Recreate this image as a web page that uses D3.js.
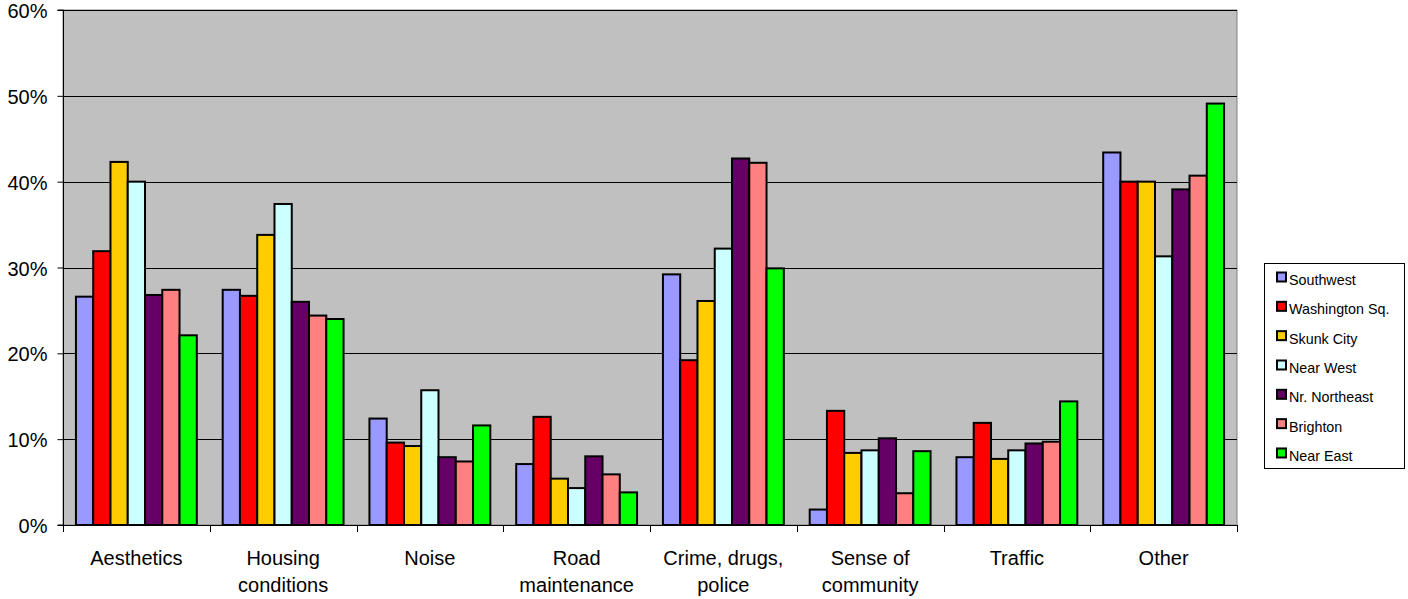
<!DOCTYPE html>
<html>
<head>
<meta charset="utf-8">
<script src="https://cdn.jsdelivr.net/npm/d3@7"></script>
<style>
  html, body { margin: 0; padding: 0; background: #fff; }
  svg { display: block; font-family: "Liberation Sans", Arial, sans-serif; }
</style>
</head>
<body>
<svg id="chart" width="1408" height="599"></svg>
<script>
// Problem categories (line breaks mark the wrapped axis labels)
const categories = [
  "Aesthetics",
  "Housing\nconditions",
  "Noise",
  "Road\nmaintenance",
  "Crime, drugs,\npolice",
  "Sense of\ncommunity",
  "Traffic",
  "Other"
];

// Neighborhoods (series)
const series = ["Southwest", "Washington Sq.", "Skunk City", "Near West", "Nr. Northeast", "Brighton", "Near East"];
const seriesColors = ["#9999FF", "#FF0000", "#FFCC00", "#CCFFFF", "#660066", "#FF8080", "#00FF00"];

// Share of respondents naming each problem, per neighborhood (in category order)
const southwest     = [0.266, 0.274, 0.124, 0.071, 0.292, 0.018, 0.079, 0.434];
const washingtonSq  = [0.319, 0.267, 0.096, 0.126, 0.192, 0.133, 0.119, 0.400];
const skunkCity     = [0.423, 0.338, 0.092, 0.054, 0.261, 0.084, 0.077, 0.400];
const nearWest      = [0.400, 0.374, 0.157, 0.043, 0.322, 0.087, 0.087, 0.313];
const nrNortheast   = [0.268, 0.260, 0.079, 0.080, 0.427, 0.101, 0.095, 0.391];
const brighton      = [0.274, 0.244, 0.074, 0.059, 0.422, 0.037, 0.097, 0.407];
const nearEast      = [0.221, 0.240, 0.116, 0.038, 0.299, 0.086, 0.144, 0.491];

const seriesValues = [southwest, washingtonSq, skunkCity, nearWest, nrNortheast, brighton, nearEast];

const yTicks = [0, 0.1, 0.2, 0.3, 0.4, 0.5, 0.6];

// Plot area
const plot = { left: 63, right: 1237, top: 10, bottom: 525 };

const svg = d3.select("#chart");

const x0 = d3.scaleBand()
  .domain(categories)
  .range([plot.left, plot.right])
  .padding(0);

const x1 = d3.scaleBand()
  .domain(series)
  .range([0, x0.bandwidth()])
  .paddingInner(0)
  .paddingOuter(0.75);

const y = d3.scaleLinear()
  .domain([0, 0.6])
  .range([plot.bottom, plot.top]);

// Plot background
svg.append("rect")
  .attr("x", plot.left)
  .attr("y", plot.top)
  .attr("width", plot.right - plot.left)
  .attr("height", plot.bottom - plot.top)
  .attr("fill", "#C0C0C0")
  .attr("stroke", "#808080")
  .attr("stroke-width", 1);

// Horizontal gridlines
svg.append("g")
  .selectAll("line")
  .data(yTicks.filter(d => d > 0))
  .join("line")
  .attr("x1", plot.left)
  .attr("x2", plot.right)
  .attr("y1", d => Math.round(y(d)) + 0.5)
  .attr("y2", d => Math.round(y(d)) + 0.5)
  .attr("stroke", "#000")
  .attr("stroke-width", 1);

// Bars
const groups = svg.append("g")
  .selectAll("g")
  .data(categories)
  .join("g")
  .attr("transform", c => `translate(${x0(c)},0)`);

groups.selectAll("rect")
  .data((c, ci) => series.map((s, si) => ({ s, si, v: seriesValues[si][ci] })))
  .join("rect")
  .attr("x", d => x1(d.s))
  .attr("y", d => y(d.v))
  .attr("width", x1.bandwidth())
  .attr("height", d => y(0) - y(d.v))
  .attr("fill", d => seriesColors[d.si])
  .attr("stroke", "#000")
  .attr("stroke-width", 2);

// Y axis
const yAxis = d3.axisLeft(y)
  .tickValues(yTicks)
  .tickSize(6)
  .tickPadding(10)
  .tickFormat(d3.format(".0%"));

const yg = svg.append("g")
  .attr("transform", `translate(${plot.left + 0.5},0)`)
  .call(yAxis);
yg.select(".domain").attr("stroke", "#000").attr("d", `M-6,${plot.bottom}H0V${plot.top}H-6`);
yg.selectAll(".tick line").attr("stroke", "#000");
yg.selectAll(".tick text")
  .attr("fill", "#000")
  .style("font-size", "20px")
  .attr("dy", "0.38em");

// X axis: tick marks at category boundaries
const xg = svg.append("g");
xg.append("line")
  .attr("x1", plot.left)
  .attr("x2", plot.right)
  .attr("y1", plot.bottom + 0.5)
  .attr("y2", plot.bottom + 0.5)
  .attr("stroke", "#000");
xg.selectAll("line.tick")
  .data(categories.concat([null]))
  .join("line")
  .attr("class", "tick")
  .attr("x1", (c, i) => Math.round(c === null ? plot.right : x0(c)) + 0.5)
  .attr("x2", (c, i) => Math.round(c === null ? plot.right : x0(c)) + 0.5)
  .attr("y1", plot.bottom)
  .attr("y2", plot.bottom + 7)
  .attr("stroke", "#000");

// Category labels
const labels = xg.selectAll("text")
  .data(categories)
  .join("text")
  .attr("x", c => x0(c) + x0.bandwidth() / 2)
  .attr("y", 565)
  .attr("text-anchor", "middle")
  .attr("fill", "#000")
  .style("font-size", "20px");

labels.selectAll("tspan")
  .data(c => c.split("\n"))
  .join("tspan")
  .attr("x", function () { return d3.select(this.parentNode).attr("x"); })
  .attr("dy", (d, i) => i === 0 ? 0 : 26.7)
  .text(d => d);

// Legend
const legend = { left: 1264, top: 263, width: 140, height: 205, firstY: 277, step: 29.33 };
const lg = svg.append("g");
lg.append("rect")
  .attr("x", legend.left + 0.5)
  .attr("y", legend.top + 0.5)
  .attr("width", legend.width)
  .attr("height", legend.height)
  .attr("fill", "#fff")
  .attr("stroke", "#000")
  .attr("stroke-width", 1);

const items = lg.selectAll("g.item")
  .data(series)
  .join("g")
  .attr("class", "item")
  .attr("transform", (s, i) => `translate(0,${legend.firstY + i * legend.step})`);

items.append("rect")
  .attr("x", 1277)
  .attr("y", -4.5)
  .attr("width", 9)
  .attr("height", 9)
  .attr("fill", (s, i) => seriesColors[i])
  .attr("stroke", "#000")
  .attr("stroke-width", 2);

items.append("text")
  .attr("x", 1289)
  .attr("y", 8)
  .attr("fill", "#000")
  .style("font-size", "14.3px")
  .text(s => s);
</script>
</body>
</html>
